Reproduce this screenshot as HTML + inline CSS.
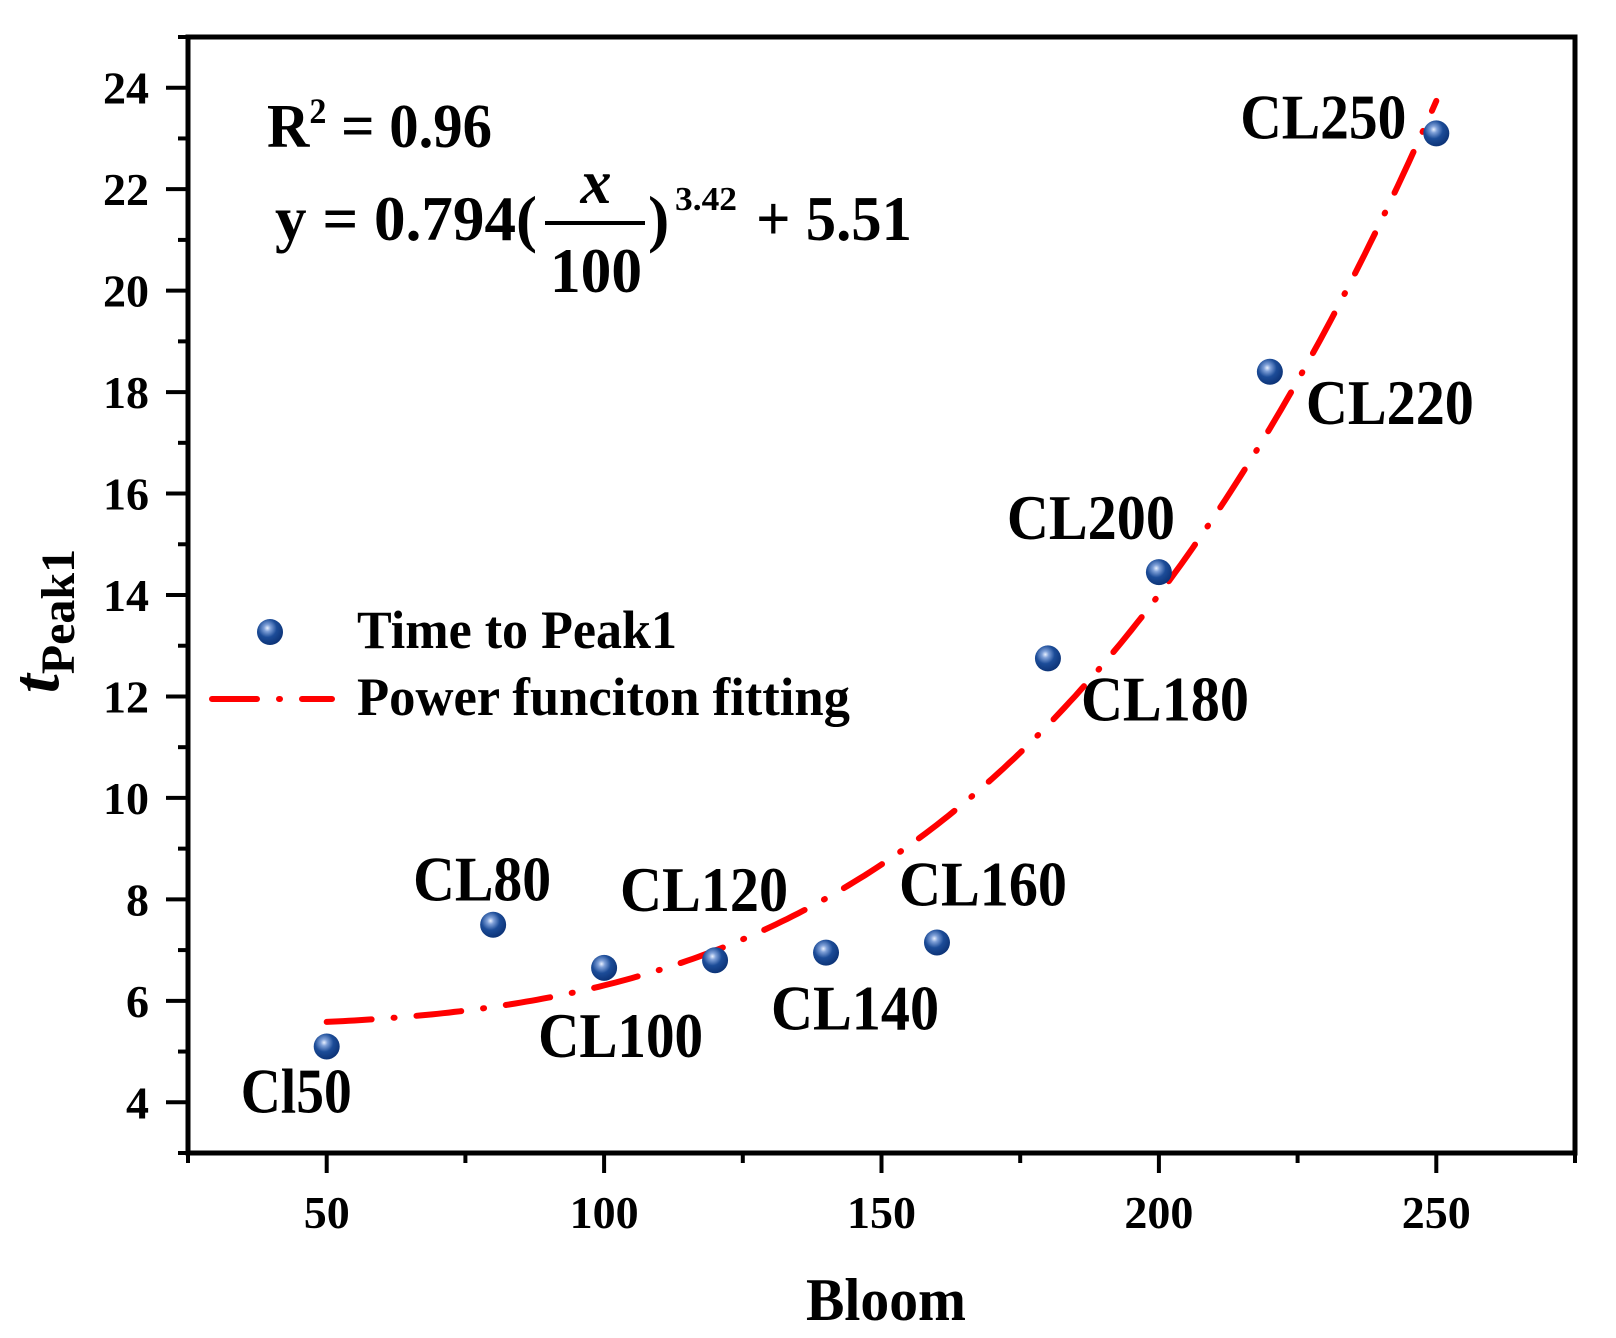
<!DOCTYPE html>
<html><head><meta charset="utf-8"><style>
html,body{margin:0;padding:0;background:#fff;}
svg{display:block;font-family:"Liberation Serif",serif;font-weight:bold;}
</style></head><body>
<svg id="chart" width="1616" height="1338" viewBox="0 0 1616 1338">
<defs>
<radialGradient id="ball" cx="0.4" cy="0.35" r="0.65">
<stop offset="0" stop-color="#e8f0ff"/><stop offset="0.2" stop-color="#7fa0d8"/><stop offset="0.55" stop-color="#1c4c98"/><stop offset="1" stop-color="#0d3478"/>
</radialGradient>
</defs>
<g id="axes"></g>
<g id="fit"></g>
<g id="points"></g>
<g id="labels"></g>
<text x="267" y="147" font-size="62" textLength="225" lengthAdjust="spacingAndGlyphs">R<tspan dy="-24" font-size="36">2</tspan><tspan dy="24"> = 0.96</tspan></text>
<g>
<text x="275" y="240" font-size="64" textLength="262" lengthAdjust="spacingAndGlyphs">y = 0.794(</text>
<text x="596" y="203" font-size="62" font-style="italic" text-anchor="middle">x</text>
<line x1="545" y1="223" x2="645" y2="223" stroke="#000" stroke-width="4"/>
<text x="596" y="292" font-size="64" text-anchor="middle" textLength="92" lengthAdjust="spacingAndGlyphs">100</text>
<text x="648" y="240" font-size="64">)</text>
<text x="675" y="210" font-size="34" textLength="62" lengthAdjust="spacingAndGlyphs">3.42</text>
<text x="756" y="240" font-size="64" textLength="156" lengthAdjust="spacingAndGlyphs">+ 5.51</text>
</g>
<g>
<circle cx="270" cy="632" r="13" fill="url(#ball)"/>
<text x="357" y="648" font-size="54" textLength="320" lengthAdjust="spacingAndGlyphs">Time to Peak1</text>
<line x1="212" y1="699" x2="332" y2="699" stroke="#f00" stroke-width="6" stroke-linecap="round" stroke-dasharray="45 22 1 22"/>
<text x="357" y="715" font-size="54" textLength="493" lengthAdjust="spacingAndGlyphs">Power funciton fitting</text>
</g>
<text x="886" y="1320" font-size="60" text-anchor="middle" textLength="160" lengthAdjust="spacingAndGlyphs">Bloom</text>
<text transform="translate(58,621) rotate(-90)" font-size="68" text-anchor="middle"><tspan font-style="italic">t</tspan><tspan font-size="48" dy="16">Peak1</tspan></text>
</svg>
<script>
const xs = [50, 80, 100, 120, 140, 160, 180, 200, 220, 250];
const ys = [5.1, 7.5, 6.65, 6.8, 6.95, 7.15, 12.75, 14.45, 18.4, 23.1];
const pointLabels = ["Cl50","CL80","CL100","CL120","CL140","CL160","CL180","CL200","CL220","CL250"];
const xTicks = [50, 100, 150, 200, 250];
const yTicks = [4, 6, 8, 10, 12, 14, 16, 18, 20, 22, 24];
const fitA = 0.794, fitB = 3.42, fitC = 5.51;
const fitRange = [50, 250];
// label layout (pixel offsets from point, and label widths)
const labelOffsets = [[-86,66],[-80,-24],[-66,89],[-95,-49],[-55,77],[-38,-37],[33,62],[-152,-33],[36,52],[-196,5]];
const labelWidths = [111,138,165,168,168,168,168,168,168,166];

const X0=188, X1=1575, Y0=1153, Y1=37;
const xmin=25, xmax=275, ymin=3, ymax=25;
const sx = v => X0 + (v-xmin)/(xmax-xmin)*(X1-X0);
const sy = v => Y0 - (v-ymin)/(ymax-ymin)*(Y0-Y1);
const NS="http://www.w3.org/2000/svg";
function mk(tag, attrs, parent){const e=document.createElementNS(NS,tag);for(const k in attrs)e.setAttribute(k,attrs[k]);parent.appendChild(e);return e;}
const axes=document.getElementById('axes');
const frame=mk('rect',{x:X0,y:Y1,width:X1-X0,height:Y0-Y1,fill:'none',stroke:'#000','stroke-width':5},axes);


for(let v=25; v<=275; v+=25){
  const major = xTicks.includes(v);
  const t=mk('line',{x1:sx(v),x2:sx(v),y1:Y0,y2:Y0+(major?20:10),stroke:'#000','stroke-width':4},axes);
  
  
}
xTicks.forEach(v=>{
  const t=mk('text',{x:sx(v),y:1228,'font-size':46,'text-anchor':'middle'},axes);t.textContent=v;
  
  
});
for(let v=3; v<=25; v+=1){
  const major = yTicks.includes(v);
  const t=mk('line',{x1:X0-(major?22:10),x2:X0,y1:sy(v),y2:sy(v),stroke:'#000','stroke-width':4},axes);
  
  
}
yTicks.forEach(v=>{
  const t=mk('text',{x:149,y:sy(v)+16,'font-size':46,'text-anchor':'end'},axes);t.textContent=v;
  
  
});
let d='';
for(let i=0;i<=200;i++){
  const x=fitRange[0]+(fitRange[1]-fitRange[0])*i/200;
  const y=fitA*Math.pow(x/100,fitB)+fitC;
  d+=(i?'L':'M')+sx(x).toFixed(1)+' '+sy(y).toFixed(1);
}
const fit=mk('path',{d:d,fill:'none',stroke:'#f00','stroke-width':6,'stroke-linecap':'round','stroke-dasharray':'45 22 1 22'},document.getElementById('fit'));


const pg=document.getElementById('points'), lg=document.getElementById('labels');
xs.forEach((x,i)=>{
  const c=mk('circle',{cx:sx(x),cy:sy(ys[i]),r:13,fill:'url(#ball)'},pg);
  
  
  const t=mk('text',{x:sx(x)+labelOffsets[i][0],y:sy(ys[i])+labelOffsets[i][1],'font-size':64,textLength:labelWidths[i],lengthAdjust:'spacingAndGlyphs'},lg);
  t.textContent=pointLabels[i];
  
  
});
</script>
</body></html>
